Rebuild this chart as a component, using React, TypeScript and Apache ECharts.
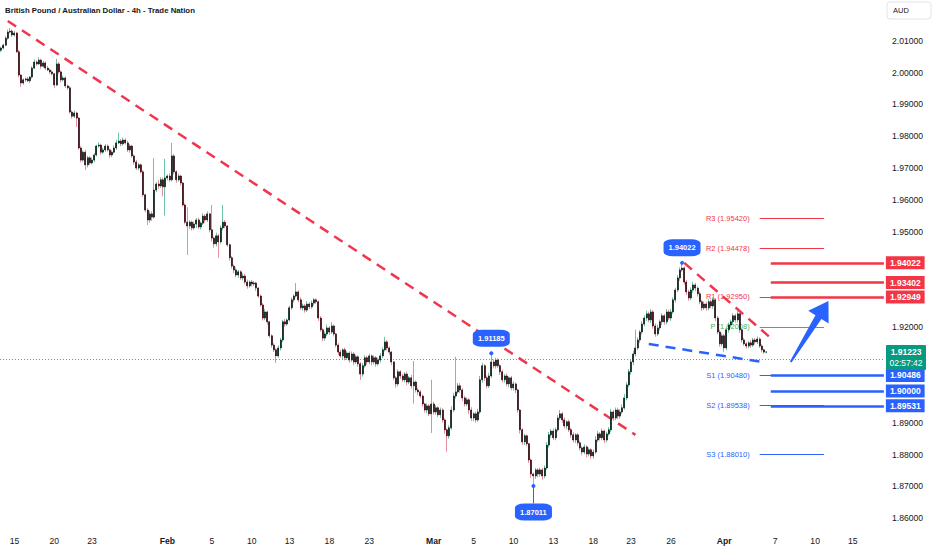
import React, { useEffect, useRef } from 'react';
import * as echarts from 'echarts';

// ---------- data (prices in pips, 1 pip = 0.0001) ----------
const FIRST_OPEN = 20070;
const closes = [
  20077, 20086, 20108, 20127, 20130, 20118, 20124, 20065, 19992, 19967,
  19977, 19980, 19974, 19986, 20014, 20033, 20027, 20039, 20020, 20030,
  20014, 20008, 20002, 19996, 19961, 20027, 20002, 19977, 19983, 19958,
  19952, 19876, 19863, 19873, 19857, 19763, 19725, 19750, 19710, 19732,
  19716, 19725, 19741, 19769, 19772, 19750, 19757, 19769, 19757, 19741,
  19750, 19763, 19779, 19785, 19776, 19788, 19779, 19757, 19769, 19738,
  19719, 19700, 19710, 19688, 19616, 19568, 19537, 19556, 19546, 19631,
  19650, 19644, 19663, 19641, 19669, 19675, 19663, 19738, 19688, 19663,
  19675, 19653, 19584, 19530, 19518, 19530, 19512, 19524, 19537, 19515,
  19527, 19549, 19537, 19556, 19506, 19480, 19462, 19487, 19468, 19512,
  19530, 19518, 19459, 19418, 19392, 19380, 19364, 19374, 19355, 19361,
  19342, 19330, 19342, 19336, 19339, 19323, 19298, 19270, 19229, 19248,
  19217, 19173, 19144, 19129, 19110, 19135, 19160, 19217, 19210, 19223,
  19261, 19286, 19298, 19311, 19286, 19261, 19267, 19254, 19273, 19264,
  19276, 19286, 19280, 19229, 19192, 19166, 19179, 19198, 19185, 19204,
  19179, 19144, 19122, 19110, 19129, 19104, 19119, 19097, 19116, 19091,
  19107, 19085, 19053, 19079, 19104, 19091, 19110, 19091, 19104, 19085,
  19097, 19110, 19129, 19154, 19135, 19122, 19091, 19041, 19022, 19060,
  19047, 19035, 19053, 19028, 19041, 19016, 19028, 19003, 18997, 18984,
  18959, 18940, 18953, 18928, 18959, 18934, 18947, 18925, 18940, 18909,
  18878, 18859, 18884, 18940, 18984, 18997, 19016, 19003, 18978, 18959,
  18972, 18940, 18915, 18928, 18909, 18934, 19035, 19079, 19041, 19016,
  19047, 19091, 19079, 19097, 19079, 19060, 19035, 19047, 19022, 19041,
  19010, 19022, 19003, 18940, 18878, 18840, 18859, 18834, 18783, 18739,
  18733, 18752, 18739, 18752, 18733, 18758, 18830, 18862, 18874, 18853,
  18878, 18915, 18928, 18909, 18890, 18903, 18878, 18862, 18846, 18862,
  18837, 18821, 18808, 18824, 18802, 18815, 18796, 18808, 18846, 18865,
  18853, 18874, 18846, 18865, 18878, 18934, 18915, 18940, 18921, 18934,
  18947, 18978, 19019, 19060, 19091, 19116, 19135, 19160, 19185, 19210,
  19229, 19242, 19223, 19248, 19204, 19179, 19198, 19217, 19236, 19217,
  19248, 19229, 19248, 19286, 19317, 19355, 19380, 19386, 19342, 19311,
  19292, 19317, 19333, 19323, 19305, 19280, 19261, 19273, 19261, 19280,
  19267, 19286, 19229, 19185, 19148, 19173, 19135, 19192, 19207, 19217,
  19236, 19223, 19242, 19192, 19160, 19148, 19141, 19151, 19144, 19160,
  19154, 19163, 19141, 19129, 19122, 19122,
];
const upWick = [
  4, 5, 6, 8, 10, 5, 7, 4, 6, 3,
  5, 4, 6, 3, 6, 8, 5, 9, 4, 6,
  5, 7, 4, 5, 3, 16, 6, 4, 7, 5,
  4, 6, 5, 8, 4, 3, 6, 5, 7, 6,
  5, 8, 6, 4, 9, 5, 7, 6, 5, 4,
  6, 8, 10, 26, 6, 8, 5, 7, 6, 4,
  5, 7, 6, 4, 5, 3, 6, 9, 8, 100,
  6, 12, 8, 7, 60, 5, 9, 41, 6, 5,
  7, 4, 3, 5, 47, 6, 5, 8, 6, 7,
  5, 9, 6, 8, 4, 78, 5, 10, 6, 8,
  54, 7, 3, 4, 6, 5, 8, 6, 5, 9,
  6, 8, 5, 7, 6, 4, 3, 5, 6, 9,
  4, 3, 5, 6, 5, 8, 7, 6, 9, 5,
  7, 8, 6, 28, 5, 8, 7, 6, 9, 6,
  8, 6, 5, 4, 6, 5, 8, 10, 6, 12,
  5, 4, 6, 8, 5, 7, 6, 5, 8, 6,
  7, 5, 6, 9, 8, 6, 7, 5, 8, 6,
  7, 9, 8, 16, 6, 5, 4, 3, 6, 8,
  5, 7, 6, 8, 6, 9, 66, 5, 7, 6,
  5, 4, 8, 6, 76, 7, 9, 5, 8, 6,
  5, 4, 8, 12, 10, 110, 9, 8, 6, 7,
  8, 6, 9, 5, 7, 10, 12, 9, 6, 8,
  10, 27, 8, 7, 6, 5, 7, 6, 8, 5,
  6, 8, 5, 4, 3, 5, 6, 4, 3, 5,
  4, 6, 5, 7, 6, 8, 10, 9, 6, 8,
  7, 9, 12, 6, 8, 5, 7, 6, 8, 5,
  6, 7, 5, 8, 6, 7, 5, 8, 12, 9,
  6, 8, 5, 7, 9, 10, 6, 8, 7, 9,
  10, 12, 8, 9, 7, 10, 57, 8, 6, 9,
  8, 10, 7, 9, 6, 8, 10, 7, 8, 6,
  9, 7, 10, 8, 7, 9, 8, 16, 5, 6,
  7, 8, 9, 6, 5, 7, 6, 8, 7, 9,
  6, 8, 5, 6, 7, 8, 6, 9, 8, 7,
  8, 6, 9, 5, 6, 7, 5, 6, 8, 7,
  6, 8, 5, 6, 4, 3,
];
const downWick = [
  6, 4, 3, 5, 4, 6, 5, 3, 7, 12,
  5, 6, 4, 7, 5, 4, 6, 3, 8, 5,
  6, 4, 7, 5, 10, 4, 6, 8, 5, 7,
  6, 5, 8, 6, 28, 5, 7, 6, 16, 8,
  6, 5, 7, 4, 5, 8, 6, 7, 5, 9,
  7, 5, 6, 4, 8, 6, 5, 7, 9, 6,
  8, 6, 7, 5, 6, 7, 16, 9, 12, 5,
  7, 10, 6, 30, 90, 8, 6, 5, 7, 9,
  6, 8, 5, 7, 91, 10, 8, 6, 12, 7,
  8, 6, 9, 7, 8, 10, 12, 8, 50, 6,
  8, 7, 6, 9, 8, 10, 7, 9, 6, 8,
  7, 9, 6, 8, 7, 9, 6, 5, 8, 7,
  9, 6, 8, 7, 22, 6, 8, 7, 9, 6,
  5, 6, 8, 5, 7, 6, 9, 8, 6, 7,
  6, 8, 7, 9, 6, 10, 8, 7, 9, 6,
  8, 7, 9, 6, 10, 8, 7, 9, 6, 10,
  7, 9, 18, 8, 6, 9, 7, 10, 8, 9,
  6, 8, 7, 5, 8, 9, 10, 7, 12, 8,
  9, 7, 8, 10, 7, 9, 56, 8, 10, 7,
  9, 8, 10, 7, 60, 8, 9, 7, 10, 8,
  12, 50, 9, 6, 7, 8, 6, 9, 10, 8,
  7, 12, 9, 10, 8, 6, 7, 9, 10, 8,
  7, 6, 8, 9, 7, 10, 8, 9, 7, 10,
  8, 9, 10, 8, 12, 9, 10, 8, 9, 12,
  32, 9, 10, 8, 12, 7, 6, 8, 9, 7,
  8, 6, 7, 9, 8, 10, 7, 9, 8, 10,
  9, 8, 10, 7, 11, 8, 10, 9, 6, 7,
  9, 8, 10, 7, 6, 8, 9, 7, 10, 8,
  7, 6, 8, 7, 9, 10, 8, 7, 9, 8,
  7, 9, 8, 10, 8, 9, 7, 8, 10, 9,
  8, 7, 9, 6, 8, 7, 9, 6, 8, 10,
  9, 7, 8, 10, 9, 8, 10, 7, 9, 8,
  8, 9, 10, 7, 9, 8, 12, 7, 9, 8,
  7, 9, 8, 10, 9, 6, 8, 7, 9, 6,
  8, 7, 6, 8, 5, 4,
];

// time axis: one slot per 4h bar (incl. empty future slots)
const SLOT_COUNT = 399;
const xTickIndex = [6, 24, 41, 75, 95, 113, 130, 148, 166, 195, 213, 231, 249, 267, 284, 302, 326, 349, 367, 384];
const xTickText = ['15', '20', '23', 'Feb', '5', '10', '13', '18', '23', 'Mar', '5', '10', '13', '18', '23', '26', 'Apr', '7', '10', '15'];
const monthLabels = ['Feb', 'Mar', 'Apr'];

// price axis
const Y_MIN = 1.85632;
const Y_MAX = 2.02278;
const priceTicks = [1.86, 1.87, 1.88, 1.89, 1.92, 1.95, 1.96, 1.97, 1.98, 1.99, 2.0, 2.01];

// pivot points
const pivotNames = ['R3', 'R2', 'R1', 'P', 'S1', 'S2', 'S3'];
const pivotValues = [1.9542, 1.94478, 1.9295, 1.92008, 1.9048, 1.89538, 1.8801];
const pivotColors = ['#f23645', '#f23645', '#f23645', '#4caf50', '#2962ff', '#2962ff', '#2962ff'];
const pivotFrom = 342;
const pivotTo = 371;

// key horizontal levels
const levelValues = [1.94022, 1.93402, 1.92949, 1.90486, 1.9, 1.89531];
const levelColors = ['#f23645', '#f23645', '#f23645', '#2962ff', '#2962ff', '#2962ff'];
const levelFrom = 347;
const levelTo = 398;

// current price
const currentPrice = 1.91223;
const countdown = '02:57:42';

// swing callouts
const calloutIndex = [307, 221, 240];
const calloutPrice = [1.94022, 1.91185, 1.87011];
const calloutBelow = [false, false, true];
const lowConnectorEnd = 1.86464;

// drawn trend lines [index, price]
const trendMain = [[3, 2.0162], [286, 1.8862]];
const trendShort = [[308, 1.9402], [348, 1.916]];
const supportLine = [[292, 1.91474], [343, 1.90909]];

// projection arrow [index, price]
const arrowFrom = [356, 1.9091];
const arrowTo = [373, 1.92825];

// ---------- style ----------
const FONT = '"Liberation Sans", Arial, sans-serif';
const TEXT = '#131722';
const UP_WICK = '#6cc6a6';
const DOWN_WICK = '#ec8f9d';
const UP_BODY = '#0b1a14';
const DOWN_BODY = '#2c0a11';
const RED = '#f23645';
const BLUE = '#2962ff';
const GREEN = '#089981';

function arrowPoints(a: number[], b: number[]) {
  const dx = b[0] - a[0];
  const dy = b[1] - a[1];
  const L = Math.hypot(dx, dy);
  const ux = dx / L, uy = dy / L;
  const nx = -uy, ny = ux;
  const headLen = 19, headHalf = 12, neck = 3.5, tail = 1;
  const bx = b[0] - ux * headLen, by = b[1] - uy * headLen;
  return [
    [a[0] + nx * tail, a[1] + ny * tail],
    [bx + nx * neck, by + ny * neck],
    [bx + nx * headHalf, by + ny * headHalf],
    [b[0], b[1]],
    [bx - nx * headHalf, by - ny * headHalf],
    [bx - nx * neck, by - ny * neck],
    [a[0] - nx * tail, a[1] - ny * tail],
  ];
}

function buildOption() {
  const P = (v: number) => v / 10000;
  const opens = closes.map((c, i) => (i === 0 ? FIRST_OPEN : closes[i - 1]));
  const wickData = closes.map((c, i) => {
    const o = opens[i];
    return [P(o), P(c), P(Math.min(o, c) - downWick[i]), P(Math.max(o, c) + upWick[i])];
  });
  const bodyData = closes.map((c, i) => {
    const o = opens[i];
    return [P(o), P(c), P(Math.min(o, c)), P(Math.max(o, c))];
  });

  const categories = Array.from({ length: SLOT_COUNT }, () => '');
  xTickIndex.forEach((idx, k) => {
    categories[idx] = xTickText[k];
  });

  const dashed = (color: string) => ({ color, width: 2.5, type: [10, 7] as any });

  const underLines: any[] = [
    [{ coord: trendMain[0], lineStyle: dashed('#f0364f') }, { coord: trendMain[1] }],
    [{ coord: trendShort[0], lineStyle: dashed('#f0364f') }, { coord: trendShort[1] }],
    [{ coord: supportLine[0], lineStyle: dashed(BLUE) }, { coord: supportLine[1] }],
    ...pivotValues.map((v, k) => [
      {
        coord: [pivotFrom, v],
        lineStyle: { color: pivotColors[k], width: 1, type: 'solid' },
        label: {
          show: true,
          position: 'start',
          distance: 10,
          formatter: `${pivotNames[k]} (${v.toFixed(5)})`,
          color: pivotColors[k],
          fontSize: 7.5,
          fontFamily: FONT,
        },
      },
      { coord: [pivotTo, v] },
    ]),
  ];

  const levelLines: any[] = [
    ...levelValues.map((v, k) => [
      {
        coord: [levelFrom, v],
        lineStyle: { color: levelColors[k], width: 2.5, type: 'solid' },
        label: {
          show: true,
          position: 'end',
          distance: 2,
          formatter: v.toFixed(5),
          backgroundColor: levelColors[k],
          color: '#fff',
          padding: [2, 4, 1, 4],
          fontSize: 8.5,
          lineHeight: 10,
          fontWeight: 'bold',
          fontFamily: FONT,
        },
      },
      { coord: [levelTo, v] },
    ]),
    [
      { coord: [calloutIndex[2], calloutPrice[2]], lineStyle: { color: BLUE, width: 1, type: 'solid' } },
      { coord: [calloutIndex[2], lowConnectorEnd] },
    ],
  ];

  const markPoints: any[] = [];
  calloutIndex.forEach((idx, k) => {
    markPoints.push({
      coord: [idx, calloutPrice[k]],
      symbol: 'circle',
      symbolSize: 4,
      itemStyle: { color: BLUE },
      label: { show: false },
    });
    markPoints.push({
      coord: [idx, calloutPrice[k]],
      symbol: 'roundRect',
      symbolSize: [37, 17],
      symbolOffset: [0, calloutBelow[k] ? 26 : -15],
      itemStyle: { color: BLUE },
      label: {
        show: true,
        position: 'inside',
        formatter: calloutPrice[k].toFixed(5),
        color: '#fff',
        fontSize: 7.5,
        fontWeight: 'bold',
        fontFamily: FONT,
      },
    });
  });

  return {
    animation: false,
    backgroundColor: '#ffffff',
    textStyle: { fontFamily: FONT },
    grid: { left: 0, right: 47, top: 0, bottom: 20, show: false, outerBoundsMode: 'none' } as any,
    xAxis: {
      type: 'category',
      data: categories,
      boundaryGap: true,
      axisLine: { show: false },
      axisTick: { show: false },
      splitLine: { show: false },
      axisLabel: {
        interval: 0,
        margin: 6,
        fontSize: 8.6,
        color: TEXT,
        fontFamily: FONT,
        formatter: (v: string) => (monthLabels.includes(v) ? `{m|${v}}` : v),
        rich: { m: { fontWeight: 'bold', fontSize: 8.6, color: TEXT, fontFamily: FONT } },
      },
    },
    yAxis: {
      type: 'value',
      position: 'right',
      min: Y_MIN,
      max: Y_MAX,
      scale: true,
      axisLine: { show: false },
      axisTick: { show: false },
      splitLine: { show: false },
      axisLabel: {
        customValues: priceTicks,
        formatter: (v: number) => v.toFixed(5),
        fontSize: 8.6,
        color: TEXT,
        margin: 7,
        fontFamily: FONT,
      },
    } as any,
    graphic: {
      elements: [
        {
          id: 'title',
          type: 'text',
          x: 5,
          y: 10.5,
          style: {
            text: 'British Pound / Australian Dollar - 4h - Trade Nation',
            fill: TEXT,
            font: `bold 7.8px ${FONT}`,
            textVerticalAlign: 'middle',
          },
          z: 30,
        },
        {
          id: 'audBox',
          type: 'rect',
          shape: { x: 887, y: 2, width: 44, height: 17, r: 3 },
          style: { fill: '#ffffff', stroke: '#e0e3eb', lineWidth: 1 },
          z: 30,
        },
        {
          id: 'audText',
          type: 'text',
          x: 893,
          y: 10.5,
          style: { text: 'AUD', fill: TEXT, font: `7.5px ${FONT}`, textVerticalAlign: 'middle' },
          z: 31,
        },
      ],
    },
    series: [
      {
        name: 'annotations',
        type: 'line',
        data: [],
        silent: true,
        markLine: {
          silent: true,
          animation: false,
          symbol: ['none', 'none'],
          z: 5,
          label: { show: false },
          data: underLines,
        },
      },
      {
        name: 'last',
        type: 'line',
        data: [],
        silent: true,
        markLine: {
          silent: true,
          animation: false,
          symbol: ['none', 'none'],
          z: 4,
          label: { show: false },
          lineStyle: { color: GREEN, width: 1, type: [1, 2], opacity: 0.8 },
          data: [{ yAxis: currentPrice }],
        },
      },
      {
        name: 'wicks',
        type: 'candlestick',
        data: wickData,
        barWidth: 0.6,
        z: 10,
        silent: true,
        itemStyle: {
          color: UP_WICK,
          color0: DOWN_WICK,
          borderColor: UP_WICK,
          borderColor0: DOWN_WICK,
          borderColorDoji: UP_WICK,
          borderWidth: 1,
        },
      },
      {
        name: 'GBPAUD',
        type: 'candlestick',
        data: bodyData,
        barWidth: 1.5,
        z: 11,
        silent: true,
        itemStyle: {
          color: UP_BODY,
          color0: DOWN_BODY,
          borderColor: UP_BODY,
          borderColor0: DOWN_BODY,
          borderColorDoji: UP_BODY,
          borderWidth: 0.7,
        },
        markPoint: {
          silent: true,
          animation: false,
          z: 13,
          data: markPoints,
        },
      },
      {
        name: 'levels',
        type: 'line',
        data: [],
        silent: true,
        markLine: {
          silent: true,
          animation: false,
          symbol: ['none', 'none'],
          z: 12,
          label: { show: false },
          data: levelLines,
        },
      },
    ],
  };
}

export default function App() {
  const ref = useRef<HTMLDivElement>(null);
  useEffect(() => {
    document.body.style.margin = '0';
    const chart = echarts.init(ref.current as HTMLDivElement, null, { renderer: 'svg' });
    chart.setOption(buildOption() as any);
    const conv = (p: number[]) => chart.convertToPixel({ xAxisIndex: 0, yAxisIndex: 0 }, p) as number[];
    const a = conv(arrowFrom);
    const b = conv(arrowTo);
    const lastY = chart.convertToPixel({ yAxisIndex: 0 }, currentPrice) as number;
    const extra: any[] = [];
    if (a && b) {
      extra.push({
        id: 'arrow',
        type: 'polygon',
        shape: { points: arrowPoints(a, b) },
        style: { fill: BLUE },
        z: 20,
      });
    }
    if (typeof lastY === 'number' && isFinite(lastY)) {
      extra.push(
        {
          id: 'lastBox',
          type: 'rect',
          shape: { x: 886, y: lastY - 7, width: 40, height: 25, r: 1 },
          style: { fill: GREEN },
          z: 25,
        },
        {
          id: 'lastPrice',
          type: 'text',
          x: 906,
          y: lastY,
          style: {
            text: currentPrice.toFixed(5),
            fill: '#ffffff',
            font: `bold 8.5px ${FONT}`,
            textAlign: 'center',
            textVerticalAlign: 'middle',
          },
          z: 26,
        },
        {
          id: 'lastCountdown',
          type: 'text',
          x: 906,
          y: lastY + 11,
          style: {
            text: countdown,
            fill: '#ffffff',
            font: `8.5px ${FONT}`,
            textAlign: 'center',
            textVerticalAlign: 'middle',
          },
          z: 26,
        }
      );
    }
    chart.setOption({ graphic: { elements: extra } } as any);
    return () => chart.dispose();
  }, []);
  return <div ref={ref} style={{ width: 932, height: 550, overflow: 'hidden' }} />;
}
